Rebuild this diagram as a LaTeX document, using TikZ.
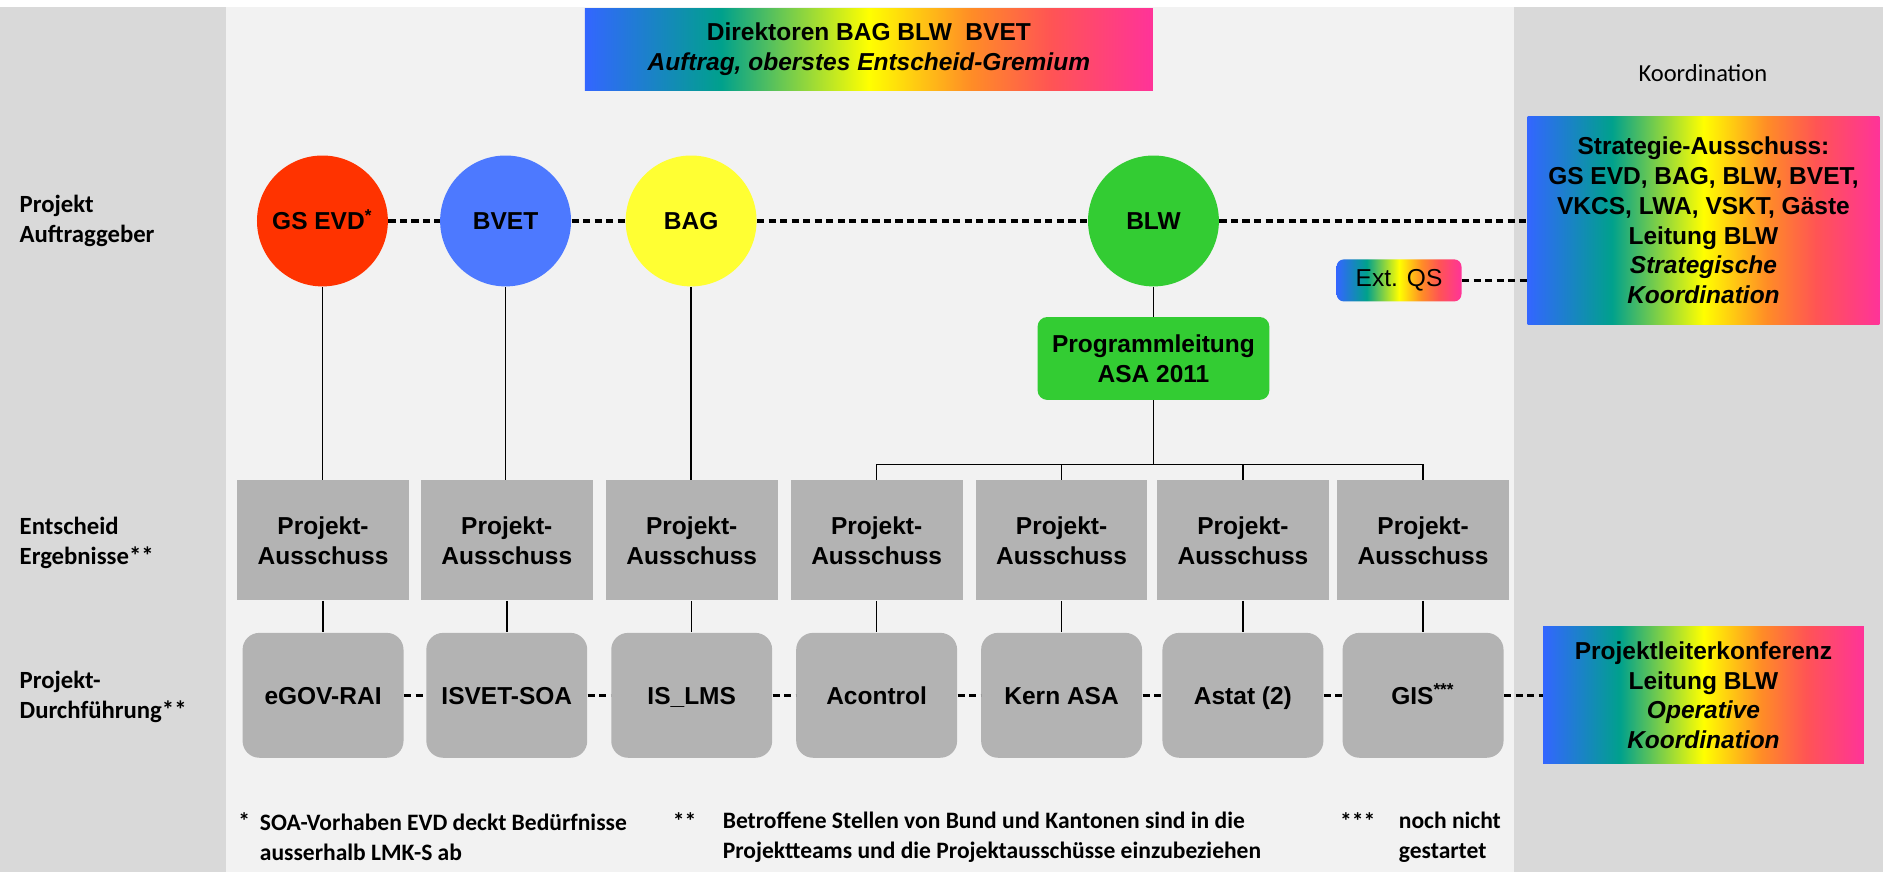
\documentclass[tikz,border=0pt]{standalone}
\usepackage{fontspec}
\setmainfont{Liberation Sans}
\newfontfamily\calibfont{Carlito}
\definecolor{sidegray}{HTML}{D9D9D9}
\definecolor{midgray}{HTML}{F2F2F2}
\definecolor{boxgray}{HTML}{B3B3B3}
\definecolor{evdred}{HTML}{FF3300}
\definecolor{bvetblue}{HTML}{4D79FF}
\definecolor{bagyellow}{HTML}{FFFF33}
\definecolor{blwgreen}{HTML}{33CC33}
\pgfdeclarehorizontalshading{rainbow}{100bp}{rgb(0bp)=(0.2,0.4,1); rgb(25bp)=(0.2,0.4,1); rgb(37bp)=(0,0.63,0.55); rgb(50bp)=(1,1,0); rgb(59bp)=(1,0.55,0.15); rgb(66bp)=(1,0.33,0.33); rgb(75bp)=(1,0.2,0.6); rgb(100bp)=(1,0.2,0.6)}
\tikzset{
  ausschuss/.style={fill=boxgray, minimum width=71.5pt, minimum height=50pt, align=center, font=\bfseries},
  projekt/.style={fill=boxgray, rounded corners=7pt, minimum width=67pt, minimum height=52pt, text height=7.4pt, text depth=0pt, font=\bfseries},
  amt/.style={circle, minimum size=54.5pt, inner sep=0pt, text height=7.4pt, text depth=0pt, font=\bfseries},
  rainbowbox/.style={shade, shading=rainbow, align=center, font=\bfseries},
  ebene/.style={anchor=west, align=left, inner sep=0pt, font=\calibfont\bfseries\fontsize{10.3}{12.5}\selectfont},
  fussnote/.style={anchor=west, align=left, inner sep=0pt, font=\calibfont\bfseries\fontsize{9.8}{12.5}\selectfont},
  link/.style={line width=1.3pt, dash pattern=on 3pt off 1.8pt},
  conn/.style={line width=0.6pt}
}
\begin{document}
\begin{tikzpicture}[x=0.5pt, y=-0.5pt, node font=\fontsize{10.2}{12.4}\selectfont]
  \useasboundingbox (0,0) rectangle (1568,726);
  \fill[white] (0,0) rectangle (1568,726);
  \fill[sidegray] (0,6) rectangle (188,726);
  \fill[midgray] (188,6) rectangle (1261,726);
  \fill[sidegray] (1261,6) rectangle (1568,726);

  \node[ebene] (auftrag) at (16,184) {Projekt\\Auftraggeber};
  \node[ebene] (entscheid) at (16,452) {Entscheid\\Ergebnisse**};
  \node[ebene] (durchf) at (16,580) {Projekt-\\Durchführung**};

  \node[rainbowbox, minimum width=236.5pt, minimum height=34pt] (direktoren) at (723.5,41)
    {Direktoren BAG BLW\ \ BVET\\\textit{Auftrag, oberstes Entscheid-Gremium}};
  \node[font=\calibfont] (koord) at (1418,61) {Koordination};
  \node[rainbowbox, minimum width=146.5pt, minimum height=86.5pt] (strategie) at (1418.5,183.5)
    {Strategie-Ausschuss:\\GS EVD, BAG, BLW, BVET,\\VKCS, LWA, VSKT, Gäste\\Leitung BLW\\\textit{Strategische}\\\textit{Koordination}};
  \node[rainbowbox, font=\mdseries, rounded corners=3pt, minimum width=52pt, minimum height=17.5pt] (extqs) at (1165,233.5) {Ext. QS};
  \node[rainbowbox, minimum width=133.5pt, minimum height=57pt] (plk) at (1418.5,579)
    {Projektleiterkonferenz\\Leitung BLW\\\textit{Operative}\\\textit{Koordination}};

  \node[amt, fill=evdred] (evd) at (268.5,184) {GS EVD\textsuperscript{*}};
  \node[amt, fill=bvetblue] (bvet) at (421,184) {BVET};
  \node[amt, fill=bagyellow] (bag) at (575.5,184) {BAG};
  \node[amt, fill=blwgreen] (blw) at (960.5,184) {BLW};
  \node[fill=blwgreen, rounded corners=4pt, minimum width=96.5pt, minimum height=34.5pt, align=center, font=\bfseries] (leitung) at (960.5,298.5) {Programmleitung\\ASA 2011};

  \foreach \x [count=\i] in {269,422,576,730,884,1035,1185}
    \node[ausschuss] (a\i) at (\x,450) {Projekt-\\Ausschuss};
  \foreach \x/\t [count=\i] in {269/eGOV-RAI, 422/ISVET-SOA, 576/IS\_LMS, 730/Acontrol, 884/Kern ASA, 1035/Astat (2), 1185/GIS\textsuperscript{***}}
    \node[projekt] (p\i) at (\x,579) {\t};

  \foreach \o/\i in {evd/1,bvet/2,bag/3}
    \draw[conn] (\o.south) -- (\o.south |- a\i.north);
  \draw[conn] (blw) -- (leitung);
  \coordinate (bus) at (960.5,387);
  \draw[conn] (leitung) -- (leitung |- bus);
  \draw[conn] (a4.north) |- (bus -| a7.north) -- (a7.north);
  \foreach \i in {5,6}
    \draw[conn] (a\i.north) -- (a\i.north |- bus);
  \foreach \i in {1,...,7}
    \draw[conn] (a\i) -- (p\i);

  \draw[link] (evd) -- (bvet);
  \draw[link] (bvet) -- (bag);
  \draw[link] (bag) -- (blw);
  \draw[link] (blw) -- (blw -| strategie.west);
  \draw[link] (extqs) -- (extqs -| strategie.west);
  \foreach \i [evaluate=\i as \j using int(\i+1)] in {1,...,6}
    \draw[link] (p\i) -- (p\j);
  \draw[link] (p7) -- (plk);

  \node[fussnote, anchor=base west] (stern1) at (198,690.5) {*};
  \node[fussnote] (note1) at (216,697) {SOA-Vorhaben EVD deckt Bedürfnisse\\ausserhalb LMK-S ab};
  \node[fussnote, anchor=base west] (stern2) at (560,690.5) {**};
  \node[fussnote] (note2) at (601.5,697) {Betroffene Stellen von Bund und Kantonen sind in die\\Projektteams und die Projektausschüsse einzubeziehen};
  \node[fussnote, anchor=base west] (stern3) at (1115.5,690.5) {***};
  \node[fussnote] (note3) at (1164.5,697) {noch nicht\\gestartet};
\end{tikzpicture}
\end{document}
